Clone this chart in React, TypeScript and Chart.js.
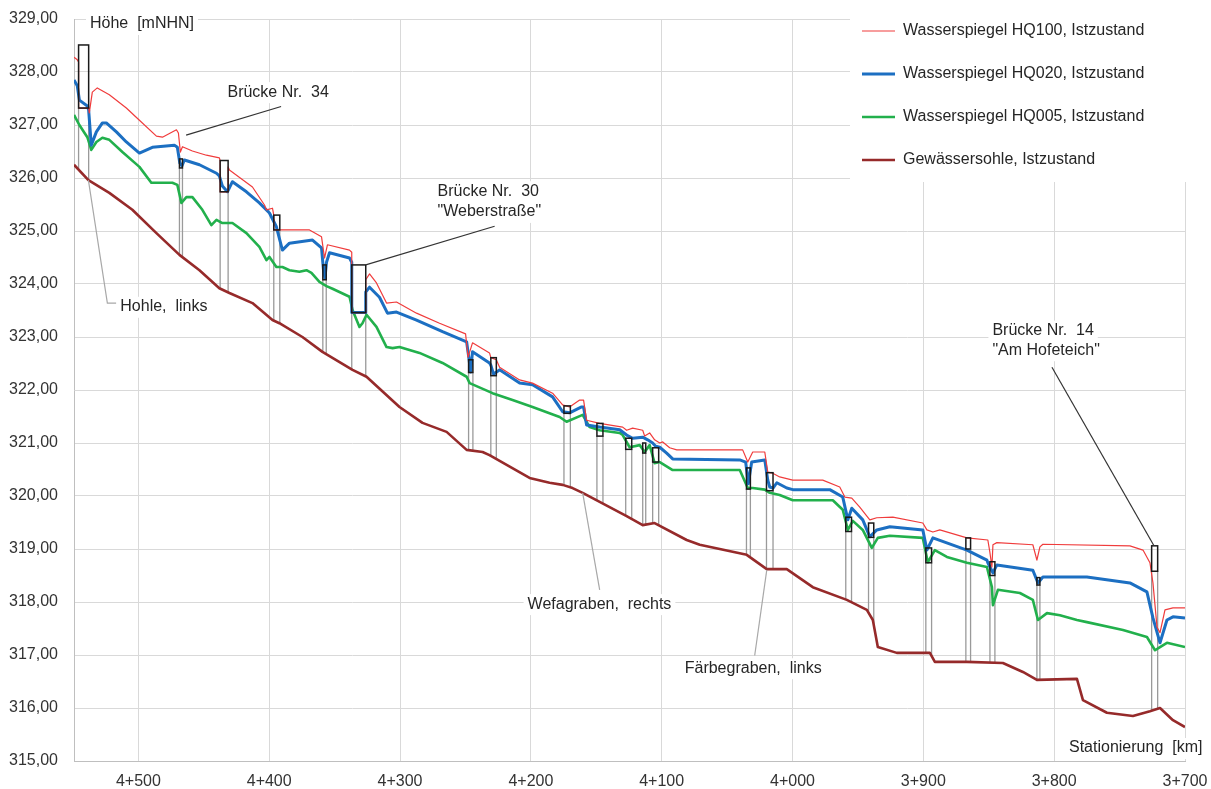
import React, { useEffect, useRef } from "react";
import { Chart, registerables } from "chart.js";

Chart.register(...registerables);

// ---------------- data (station in m, elevation in m NHN) ----------------
const hq100X = [4549.2, 4546.7, 4545.7, 4545.7, 4538.0, 4537.5, 4535.2, 4531.4, 4522.2, 4509.2,
  4499.2, 4486.2, 4481.6, 4470.9, 4469.4, 4467.9, 4466.3, 4458.7, 4448.0, 4438.1,
  4437.5, 4437.5, 4431.4, 4431.4, 4430.4, 4412.8, 4403.6, 4402.1, 4397.5, 4396.5,
  4396.5, 4391.9, 4384.5, 4369.2, 4360.0, 4357.7, 4355.5, 4338.6, 4336.9, 4336.9,
  4326.2, 4326.2, 4323.3, 4318.0, 4310.3, 4302.7, 4287.4, 4269.8, 4249.9, 4248.0,
  4244.6, 4231.6, 4230.6, 4226.4, 4223.9, 4208.6, 4198.7, 4183.4, 4175.7, 4170.4,
  4162.7, 4159.7, 4157.4, 4147.4, 4129.8, 4126.8, 4122.2, 4114.5, 4113.0, 4109.2,
  4105.4, 4101.5, 4099.2, 4093.9, 4088.5, 4038.1, 4034.2, 4030.4, 4021.2, 4018.9,
  4015.1, 4009.8, 3999.8, 3976.9, 3963.9, 3960.0, 3954.7, 3948.6, 3940.9, 3935.6,
  3923.3, 3900.4, 3897.3, 3892.7, 3887.4, 3866.7, 3850.7, 3849.1, 3847.6, 3846.8,
  3843.8, 3816.3, 3813.2, 3810.9, 3808.6, 3742.1, 3732.1, 3726.8, 3724.5, 3721.4,
  3719.1, 3715.3, 3709.2, 3700.0];
const hq100Y = [328.28, 328.23, 328.19, 327.32, 327.32, 327.23, 327.62, 327.70, 327.57, 327.32,
  327.09, 326.79, 326.77, 326.91, 326.85, 326.49, 326.59, 326.51, 326.43, 326.38,
  326.33, 325.74, 325.74, 326.21, 326.15, 325.83, 325.49, 325.40, 325.43, 325.30,
  325.02, 325.02, 325.02, 325.02, 324.89, 324.49, 324.74, 324.64, 324.60, 323.46,
  323.46, 324.08, 324.19, 324.02, 323.64, 323.66, 323.45, 323.26, 323.06, 322.62,
  322.89, 322.70, 322.61, 322.57, 322.43, 322.19, 322.13, 321.94, 321.72, 321.68,
  321.81, 321.81, 321.43, 321.37, 321.30, 321.24, 321.28, 321.24, 321.13, 321.19,
  321.06, 321.00, 321.02, 320.91, 320.87, 320.87, 320.64, 320.83, 320.83, 320.45,
  320.43, 320.36, 320.30, 320.30, 320.17, 319.98, 319.96, 319.79, 319.55, 319.59,
  319.60, 319.49, 319.36, 319.32, 319.36, 319.21, 319.17, 318.93, 318.66, 319.08,
  319.12, 319.08, 318.79, 319.04, 319.09, 319.06, 318.98, 318.74, 318.36, 317.53,
  317.42, 317.85, 317.89, 317.89];

const hq020X = [4549.2, 4546.7, 4545.1, 4539.0, 4538.0, 4536.0, 4532.1, 4527.5, 4524.5, 4516.8,
  4509.2, 4499.2, 4489.3, 4472.5, 4470.2, 4468.3, 4466.7, 4464.8, 4453.3, 4440.3,
  4438.1, 4435.8, 4431.9, 4428.1, 4417.4, 4407.5, 4399.8, 4394.5, 4389.9, 4384.5,
  4366.9, 4360.0, 4358.5, 4357.4, 4356.2, 4353.9, 4338.6, 4336.9, 4336.9, 4326.2,
  4326.2, 4323.3, 4315.7, 4309.6, 4302.7, 4287.4, 4267.5, 4249.1, 4247.2, 4246.1,
  4244.6, 4231.6, 4230.6, 4228.5, 4226.2, 4223.9, 4208.6, 4198.7, 4183.4, 4175.7,
  4170.4, 4161.2, 4159.7, 4157.4, 4147.4, 4132.1, 4126.8, 4122.2, 4114.5, 4110.7,
  4106.9, 4104.6, 4101.5, 4096.2, 4091.6, 4040.3, 4035.8, 4033.8, 4031.2, 4021.2,
  4018.9, 4017.4, 4014.9, 4012.0, 4004.4, 3999.8, 3971.5, 3961.6, 3957.7, 3954.7,
  3946.3, 3940.9, 3935.6, 3925.6, 3900.4, 3897.3, 3892.7, 3866.7, 3851.4, 3850.7,
  3846.8, 3843.8, 3816.3, 3812.4, 3808.6, 3775.0, 3742.1, 3729.1, 3724.5, 3719.1,
  3713.8, 3709.2, 3700.0];
const hq020Y = [327.85, 327.74, 327.47, 327.36, 327.28, 326.62, 326.87, 327.04, 327.04, 326.87,
  326.68, 326.47, 326.58, 326.62, 326.58, 326.28, 326.23, 326.34, 326.25, 326.09,
  326.04, 325.85, 325.74, 325.93, 325.74, 325.53, 325.34, 325.08, 324.64, 324.77,
  324.83, 324.68, 324.26, 324.11, 324.41, 324.59, 324.49, 324.41, 323.46, 323.46,
  323.85, 323.94, 323.75, 323.45, 323.47, 323.32, 323.10, 322.91, 322.57, 322.34,
  322.72, 322.51, 322.47, 322.30, 322.34, 322.38, 322.13, 322.10, 321.87, 321.59,
  321.57, 321.68, 321.68, 321.34, 321.30, 321.25, 321.15, 321.09, 321.11, 321.06,
  321.00, 320.94, 320.92, 320.81, 320.70, 320.68, 320.64, 320.23, 320.64, 320.68,
  320.30, 320.17, 320.15, 320.25, 320.15, 320.12, 320.12, 319.98, 319.55, 319.77,
  319.55, 319.23, 319.36, 319.42, 319.36, 318.98, 319.21, 318.98, 318.79, 318.74,
  318.55, 318.70, 318.60, 318.36, 318.47, 318.47, 318.36, 318.19, 317.70, 317.23,
  317.66, 317.72, 317.70];

const hq005X = [4549.2, 4545.1, 4539.0, 4536.0, 4532.1, 4527.5, 4522.2, 4512.2, 4499.2, 4490.1,
  4474.0, 4470.2, 4467.1, 4463.3, 4458.7, 4451.1, 4444.2, 4440.3, 4435.8, 4428.1,
  4417.4, 4407.5, 4402.1, 4399.8, 4394.5, 4389.9, 4384.5, 4376.9, 4371.5, 4367.7,
  4361.6, 4356.2, 4351.6, 4338.6, 4336.3, 4331.0, 4328.7, 4325.6, 4318.0, 4310.3,
  4305.7, 4300.4, 4285.1, 4267.5, 4249.1, 4246.8, 4229.3, 4214.0, 4198.7, 4178.0,
  4172.7, 4160.4, 4155.1, 4147.4, 4132.1, 4129.8, 4124.5, 4116.8, 4113.0, 4109.2,
  4105.4, 4101.5, 4091.6, 4040.3, 4034.2, 4030.4, 4021.2, 4017.4, 4009.8, 3999.8,
  3969.2, 3961.6, 3957.7, 3953.9, 3946.3, 3939.4, 3934.8, 3925.6, 3900.4, 3896.6,
  3891.2, 3882.0, 3866.7, 3851.4, 3847.6, 3846.8, 3843.0, 3826.2, 3816.3, 3812.4,
  3805.5, 3795.6, 3782.6, 3775.0, 3747.4, 3729.1, 3722.9, 3719.1, 3713.8, 3700.0];
const hq005Y = [327.19, 327.00, 326.77, 326.53, 326.68, 326.76, 326.72, 326.49, 326.21, 325.91,
  325.91, 325.87, 325.53, 325.64, 325.64, 325.40, 325.11, 325.21, 325.15, 325.15,
  324.96, 324.70, 324.45, 324.51, 324.32, 324.32, 324.26, 324.23, 324.26, 324.21,
  324.04, 323.96, 323.91, 323.76, 323.51, 323.19, 323.26, 323.42, 323.19, 322.81,
  322.79, 322.81, 322.70, 322.51, 322.25, 322.13, 321.94, 321.81, 321.68, 321.49,
  321.40, 321.53, 321.30, 321.24, 321.19, 321.15, 320.92, 320.96, 320.83, 320.96,
  320.62, 320.64, 320.49, 320.49, 320.15, 320.15, 320.12, 320.06, 320.02, 319.92,
  319.92, 319.74, 319.36, 319.53, 319.36, 319.02, 319.21, 319.25, 319.21, 318.75,
  318.98, 318.85, 318.74, 318.66, 318.28, 317.94, 318.23, 318.17, 318.04, 317.66,
  317.79, 317.75, 317.66, 317.62, 317.47, 317.34, 317.09, 317.15, 317.23, 317.15];

const bedX = [4549.2, 4538.2, 4522.2, 4504.6, 4486.2, 4468.6, 4453.3, 4438.1, 4430.4, 4412.8,
  4397.5, 4392.2, 4374.6, 4359.3, 4336.3, 4325.6, 4300.4, 4282.8, 4264.4, 4249.1,
  4236.9, 4231.6, 4201.0, 4185.7, 4175.7, 4168.1, 4160.4, 4147.4, 4126.8, 4114.5,
  4105.4, 4080.9, 4070.9, 4035.0, 4019.7, 4004.4, 3984.5, 3958.5, 3943.2, 3938.6,
  3934.8, 3920.3, 3895.0, 3891.2, 3866.7, 3839.2, 3823.9, 3813.2, 3782.6, 3778.0,
  3759.7, 3739.8, 3726.8, 3719.1, 3709.2, 3700.0];
const bedY = [326.25, 325.96, 325.72, 325.40, 324.96, 324.55, 324.26, 323.92, 323.83, 323.64,
  323.32, 323.26, 323.00, 322.72, 322.38, 322.25, 321.68, 321.38, 321.21, 320.87,
  320.83, 320.77, 320.34, 320.25, 320.21, 320.15, 320.06, 319.89, 319.62, 319.45,
  319.49, 319.17, 319.08, 318.89, 318.62, 318.62, 318.28, 318.04, 317.85, 317.66,
  317.15, 317.04, 317.04, 316.87, 316.87, 316.85, 316.68, 316.53, 316.55, 316.15,
  315.91, 315.85, 315.94, 316.00, 315.77, 315.64];

// bridges: upstream / downstream station, deck top and underside elevation
const bridgeFrom = [4545.7, 4468.6, 4437.5, 4396.5, 4359.0, 4336.9, 4247.6, 4230.6, 4174.7, 4149.5, 4127.5,
  4114.5, 4106.9, 4035.2, 4019.9, 3959.3, 3941.9, 3898.1, 3867.5, 3849.1, 3813.2, 3725.5];
const bridgeTo = [4538.0, 4466.3, 4431.4, 4391.9, 4356.4, 4326.2, 4244.3, 4226.4, 4169.8, 4144.9, 4122.9,
  4112.2, 4102.3, 4032.2, 4014.9, 3954.9, 3937.9, 3893.7, 3863.9, 3845.3, 3810.9, 3720.9];
const bridgeTop = [328.51, 326.36, 326.33, 325.30, 324.36, 324.36, 322.57, 322.61, 321.70, 321.37, 321.09,
  321.00, 320.91, 320.53, 320.44, 319.60, 319.49, 319.02, 319.21, 318.76, 318.46, 319.06];
const bridgeBottom = [327.32, 326.19, 325.74, 325.02, 324.08, 323.46, 322.33, 322.27, 321.56, 321.13, 320.88,
  320.81, 320.64, 320.13, 320.10, 319.33, 319.22, 318.74, 319.00, 318.50, 318.32, 318.58];

// annotation labels (text anchored at station / elevation)
const labelText = ["Brücke Nr.  34", "Brücke Nr.  30", "\"Weberstraße\"", "Hohle,  links",
  "Wefagraben,  rechts", "Färbegraben,  links", "Brücke Nr.  14", "\"Am Hofeteich\""];
const labelX = [4431.9, 4271.3, 4271.3, 4513.8, 4202.5, 4082.4, 3847.2, 3847.2];
const labelY = [327.62, 325.75, 325.36, 323.57, 317.96, 316.75, 323.12, 322.75];

// leader lines (polylines in station / elevation)
const bridgeLeaders = [
  [[4463.5, 326.81], [4390.9, 327.35]],
  [[4326.2, 324.36], [4227.7, 325.09]],
  [[3801.7, 322.43], [3723.7, 319.06]],
];
const ditchLeaders = [
  [[4538.2, 325.96], [4523.7, 323.64], [4516.8, 323.64]],
  [[4160.4, 320.06], [4147.4, 318.23]],
  [[4019.7, 318.60], [4028.9, 316.99]],
];

const xTickValues = [4500, 4400, 4300, 4200, 4100, 4000, 3900, 3800, 3700];
const yTickValues = [315, 316, 317, 318, 319, 320, 321, 322, 323, 324, 325, 326, 327, 328, 329];

const seriesNames = ["Wasserspiegel HQ100, Istzustand", "Wasserspiegel HQ020, Istzustand",
  "Wasserspiegel HQ005, Istzustand", "Gewässersohle, Istzustand"];
const yTitle = "Höhe  [mNHN]";
const xTitle = "Stationierung  [km]";

// ---------------- helpers ----------------
const FONT = "'Liberation Sans', Arial, sans-serif";
const TEXT = "#262626";
const COLORS = ["#f03c3c", "#1c6fc2", "#22b04c", "#962a2a"];
const WIDTHS = [1.2, 3, 2.6, 2.6];

const pts = (xs: number[], ys: number[]) => xs.map((x, i) => ({ x, y: ys[i] }));
const fmtStation = (v: number) => {
  const km = Math.floor(v / 1000);
  const m = Math.round(v - km * 1000);
  return `${km}+${String(m).padStart(3, "0")}`;
};
const fmtElev = (v: number) => v.toFixed(2).replace(".", ",");

function bedAt(s: number) {
  for (let i = 0; i < bedX.length - 1; i++) {
    const a = bedX[i], b = bedX[i + 1];
    if (s <= a && s >= b) {
      const t = (s - a) / (b - a);
      return bedY[i] + t * (bedY[i + 1] - bedY[i]);
    }
  }
  return bedY[bedY.length - 1];
}

function textBg(ctx: CanvasRenderingContext2D, text: string, x: number, y: number) {
  ctx.font = `16px ${FONT}`;
  const w = ctx.measureText(text).width;
  ctx.fillStyle = "#ffffff";
  ctx.fillRect(x - 4, y - 10, w + 8, 21);
  ctx.fillStyle = TEXT;
  ctx.textAlign = "left";
  ctx.textBaseline = "middle";
  ctx.fillText(text, x, y);
}

const noPad = (s: any) => {
  s.paddingTop = 0;
  s.paddingBottom = 0;
  s.paddingLeft = 0;
  s.paddingRight = 0;
};

const overlayPlugin = {
  id: "profileOverlay",
  beforeDatasetsDraw(chart: any) {
    const { ctx } = chart;
    const xs = chart.scales.x, ys = chart.scales.y;
    ctx.save();
    ctx.strokeStyle = "#9a9a9a";
    ctx.lineWidth = 1.3;
    for (let i = 0; i < bridgeFrom.length; i++) {
      for (const s of [bridgeFrom[i], bridgeTo[i]]) {
        const px = xs.getPixelForValue(s);
        ctx.beginPath();
        ctx.moveTo(px, ys.getPixelForValue(bridgeBottom[i]));
        ctx.lineTo(px, ys.getPixelForValue(bedAt(s)));
        ctx.stroke();
      }
    }
    ctx.restore();
  },
  afterDatasetsDraw(chart: any) {
    const { ctx } = chart;
    const xs = chart.scales.x, ys = chart.scales.y;
    ctx.save();
    // bridge decks
    ctx.strokeStyle = "#1a1a1a";
    ctx.lineWidth = 1.5;
    for (let i = 0; i < bridgeFrom.length; i++) {
      const x1 = xs.getPixelForValue(bridgeFrom[i]);
      const x2 = xs.getPixelForValue(bridgeTo[i]);
      const y1 = ys.getPixelForValue(bridgeTop[i]);
      const y2 = ys.getPixelForValue(bridgeBottom[i]);
      ctx.strokeRect(x1, y1, x2 - x1, y2 - y1);
    }
    // leaders
    const drawPoly = (poly: number[][], color: string) => {
      ctx.strokeStyle = color;
      ctx.lineWidth = 1.2;
      ctx.beginPath();
      poly.forEach(([s, e], k) => {
        const px = xs.getPixelForValue(s), py = ys.getPixelForValue(e);
        if (k === 0) ctx.moveTo(px, py); else ctx.lineTo(px, py);
      });
      ctx.stroke();
    };
    bridgeLeaders.forEach((p) => drawPoly(p, "#333333"));
    ditchLeaders.forEach((p) => drawPoly(p, "#a8a8a8"));
    // labels
    for (let i = 0; i < labelText.length; i++) {
      textBg(ctx, labelText[i], xs.getPixelForValue(labelX[i]), ys.getPixelForValue(labelY[i]));
    }
    ctx.restore();
  },
  afterDraw(chart: any) {
    const { ctx, chartArea } = chart;
    ctx.save();
    // axis titles
    textBg(ctx, yTitle, chartArea.left + 16, chartArea.top + 5);
    textBg(ctx, xTitle, chartArea.right - 116, chartArea.bottom - 13);
    // legend
    ctx.fillStyle = "#ffffff";
    ctx.fillRect(850, 0, chart.width - 850, 182);
    const rows = [31, 74, 117, 160];
    chart.data.datasets.forEach((ds: any, i: number) => {
      const y = rows[i];
      ctx.strokeStyle = ds.borderColor;
      ctx.lineWidth = ds.borderWidth;
      ctx.beginPath();
      ctx.moveTo(862, y);
      ctx.lineTo(895, y);
      ctx.stroke();
      ctx.font = `16px ${FONT}`;
      ctx.fillStyle = TEXT;
      ctx.textAlign = "left";
      ctx.textBaseline = "middle";
      ctx.fillText(ds.label, 903, y);
    });
    ctx.restore();
  },
};

export default function App() {
  const ref = useRef<HTMLCanvasElement>(null);
  useEffect(() => {
    const canvas = ref.current!;
    const series = [
      pts(hq100X, hq100Y),
      pts(hq020X, hq020Y),
      pts(hq005X, hq005Y),
      pts(bedX, bedY),
    ];
    const chart = new Chart(canvas, {
      type: "line",
      data: {
        datasets: series.map((d, i) => ({
          label: seriesNames[i],
          data: d,
          borderColor: COLORS[i],
          backgroundColor: COLORS[i],
          borderWidth: WIDTHS[i],
          pointRadius: 0,
          tension: 0,
          fill: false,
          borderJoinStyle: "round",
        })),
      },
      options: {
        responsive: false,
        animation: false,
        layout: { padding: { top: 19, right: 26, left: 0, bottom: 0 } },
        plugins: { legend: { display: false }, tooltip: { enabled: false } },
        scales: {
          x: {
            type: "linear",
            reverse: true,
            min: 3700,
            max: 4549.2,
            afterBuildTicks: (s: any) => { s.ticks = xTickValues.map((v) => ({ value: v })); },
            afterFit: (s: any) => { s.height = 28; noPad(s); },
            grid: { color: "#d9d9d9", lineWidth: 1, drawTicks: false },
            border: { color: "#bfbfbf", width: 1 },
            ticks: {
              padding: 11,
              autoSkip: false,
              maxRotation: 0,
              color: "#333333",
              font: { family: FONT, size: 16 },
              callback: (v: any) => fmtStation(Number(v)),
            },
          },
          y: {
            type: "linear",
            min: 315,
            max: 329,
            afterBuildTicks: (s: any) => { s.ticks = yTickValues.map((v) => ({ value: v })); },
            afterFit: (s: any) => { s.width = 74; noPad(s); },
            grid: { color: "#d9d9d9", lineWidth: 1, drawTicks: false },
            border: { color: "#bfbfbf", width: 1 },
            ticks: {
              padding: 16,
              color: "#333333",
              font: { family: FONT, size: 16 },
              callback: (v: any) => fmtElev(Number(v)),
            },
          },
        },
      },
      plugins: [overlayPlugin],
    } as any);
    return () => chart.destroy();
  }, []);
  return (
    <div style={{ position: "absolute", left: 0, top: 0, width: 1211, height: 789, background: "#ffffff" }}>
      <canvas ref={ref} width={1211} height={789} style={{ display: "block" }} />
    </div>
  );
}
